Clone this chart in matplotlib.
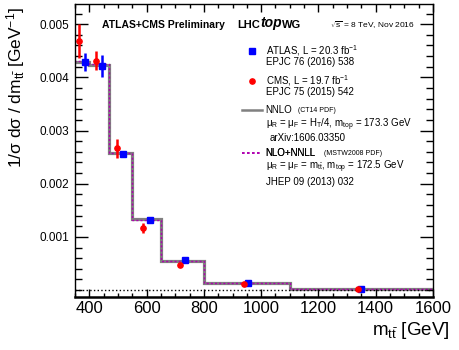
import numpy as np
import matplotlib
matplotlib.use("Agg")
import matplotlib.pyplot as plt
from matplotlib.lines import Line2D
from matplotlib.ticker import MultipleLocator, FixedLocator

# bin edges and theory predictions (normalised dsigma/dm_tt)
bins = [345, 400, 470, 550, 650, 800, 1100, 1600]
nnlo = [0.00428, 0.00424, 0.00258, 0.00133, 0.000545, 0.000135, 0.000025]
nlo_nnll = [0.00431, 0.00426, 0.00258, 0.00132, 0.00054, 0.000133, 0.000024]

# ATLAS measurement (points drawn slightly right of bin centre)
atlas_x = [386, 445, 518, 612, 734, 953, 1348]
atlas_y = [0.00429, 0.00421, 0.00255, 0.00132, 0.000557, 0.000137, 0.00002]
atlas_err = [0.00017, 0.00021, 0.00005, 0.00003, 0.00002, 0.00001, 0.000003]

# CMS measurement (points drawn slightly left of bin centre)
cms_x = [363, 425, 498, 589, 716, 941, 1339]
cms_y = [0.00469, 0.00431, 0.00267, 0.00117, 0.000464, 0.000118, 0.000013]
cms_err = [0.00032, 0.00018, 0.00018, 0.0001, 0.00003, 0.00001, 0.000002]

xticks = [400, 600, 800, 1000, 1200, 1400, 1600]
yticks = [0.001, 0.002, 0.003, 0.004, 0.005]

plt.rcParams['font.family'] = ['Liberation Sans', 'DejaVu Sans']
plt.rcParams['mathtext.fontset'] = 'custom'
plt.rcParams['mathtext.rm'] = 'Liberation Sans'
plt.rcParams['mathtext.it'] = 'Liberation Sans'
plt.rcParams['mathtext.bf'] = 'Liberation Sans:bold'

fig = plt.figure(figsize=(4.6, 3.5), dpi=100)
ax = fig.add_axes([75 / 460, 53 / 350, 358 / 460, 293 / 350])

ax.axhline(0, color='k', ls=':', lw=1)
h_nnlo = ax.stairs(nnlo, bins, baseline=None, color='#808080', lw=2.3)
h_nll = ax.stairs(nlo_nnll, bins, baseline=None, color='#b000b0', lw=1.0, ls=(0, (1.5, 1.5)))

ax.errorbar(atlas_x, atlas_y, yerr=atlas_err, fmt='s', color='#0000ff',
            ms=4.5, elinewidth=1.8, capsize=0)
ax.errorbar(cms_x, cms_y, yerr=cms_err, fmt='o', color='#ff0000',
            ms=3.8, elinewidth=1.8, capsize=0)

ax.set_xlim(350, 1600)
ax.set_ylim(-0.00013, 0.00538)
ax.xaxis.set_major_locator(FixedLocator(xticks))
ax.xaxis.set_minor_locator(MultipleLocator(50))
ax.yaxis.set_major_locator(FixedLocator(yticks))
ax.yaxis.set_minor_locator(MultipleLocator(0.0002))
ax.set_yticklabels([f"{v:.3f}" for v in yticks])

ax.tick_params(which='both', direction='in', top=True, right=True)
ax.tick_params(axis='y', which='major', length=9.5, width=1, labelsize=8.5, pad=4)
ax.tick_params(axis='y', which='minor', length=5, width=1)
ax.tick_params(axis='x', which='major', length=6, width=1, labelsize=12, pad=3)
ax.tick_params(axis='x', which='minor', length=3, width=1)
for s in ax.spines.values():
    s.set_linewidth(1.0)
ax.spines['bottom'].set_linewidth(1.8)

ax.set_ylabel(r"1/σ dσ / dm$_{\mathrm{t\bar{t}}}$ [GeV$^{-1}$]", fontsize=12.5, loc='top')
ax.yaxis.set_label_coords(-0.133, 0.99)
ax.set_xlabel(r"m$_{\mathrm{t\bar{t}}}$ [GeV]", fontsize=13.5, loc='right')
ax.xaxis.set_label_coords(1.047, -0.08)

# header
ax.text(0.075, 0.928, "ATLAS+CMS Preliminary", transform=ax.transAxes,
        fontsize=7.5, fontweight='bold', va='center')
t1 = ax.text(0.453, 0.928, "LHC", transform=ax.transAxes, fontsize=8,
             fontweight='bold', va='center')
t2 = ax.annotate("top", xy=(1, 0), xycoords=t1, fontsize=10, fontweight='bold',
                 fontstyle='italic', va='bottom')
ax.annotate("WG", xy=(1, 0), xycoords=t2, fontsize=8, fontweight='bold', va='bottom')
ax.text(0.712, 0.928, r"$\sqrt{s}$ = 8 TeV, Nov 2016", transform=ax.transAxes,
        fontsize=6, va='center')

# legend entries, one legend per entry so the rows can be spaced like the original
fs = 7
k_atlas = Line2D([], [], ls='none', marker='s', color='#0000ff', ms=4.5)
k_cms = Line2D([], [], ls='none', marker='o', color='#ff0000', ms=3.8)
k_nnlo = Line2D([], [], color=h_nnlo.get_edgecolor(), lw=1.8)
k_nll = Line2D([], [], color=h_nll.get_edgecolor(), lw=1.2, ls=(0, (1.5, 1.5)))
entries = [
    (k_atlas, r"ATLAS, L = 20.3 fb$^{-1}$", 0.840),
    (k_cms, r"CMS, L = 19.7 fb$^{-1}$", 0.740),
    (k_nnlo, "NNLO", 0.638),
    (k_nll, "NLO+NNLL", 0.491),
]
for handle, label, yy in entries:
    leg = ax.legend([handle], [label], loc='center left', bbox_to_anchor=(0.466, yy),
                    frameon=False, fontsize=fs, handlelength=2.05, handletextpad=0.4,
                    borderpad=0, borderaxespad=0, numpoints=1)
    ax.add_artist(leg)

sub = [
    ("EPJC 76 (2016) 538", 0.534, 0.802, fs),
    ("EPJC 75 (2015) 542", 0.534, 0.701, fs),
    ("(CT14 PDF)", 0.623, 0.636, 5),
    (r"$\mu_{R}$ = $\mu_{F}$ = H$_{T}$/4, m$_{top}$ = 173.3 GeV", 0.534, 0.587, fs),
    ("arXiv:1606.03350", 0.545, 0.543, fs),
    ("(MSTW2008 PDF)", 0.696, 0.489, 5),
    (r"$\mu_{R}$ = $\mu_{F}$ = m$_{\mathrm{t\bar{t}}}$, m$_{top}$ = 172.5 GeV", 0.534, 0.444, fs),
    ("JHEP 09 (2013) 032", 0.534, 0.392, fs),
]
for txt, xx, yy, size in sub:
    ax.text(xx, yy, txt, transform=ax.transAxes, fontsize=size, va='center')

fig.savefig("out.png", dpi=100)
